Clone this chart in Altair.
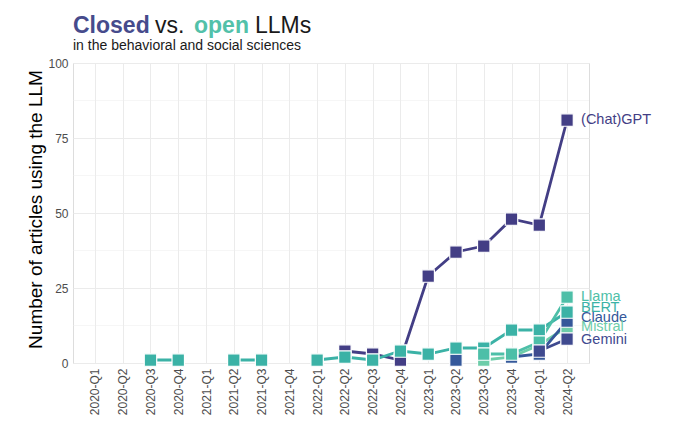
import altair as alt
import pandas as pd

quarters = ["2020-Q1", "2020-Q2", "2020-Q3", "2020-Q4",
            "2021-Q1", "2021-Q2", "2021-Q3", "2021-Q4",
            "2022-Q1", "2022-Q2", "2022-Q3", "2022-Q4",
            "2023-Q1", "2023-Q2", "2023-Q3", "2023-Q4",
            "2024-Q1", "2024-Q2"]

N = None
gpt     = [N, N, N, N, N, N, N, N, N, 4, 3, 1, 29, 37, 39, 48, 46, 81]
bert    = [N, N, 1, 1, N, 1, 1, N, 1, 2, 1, 4, 3, 5, 5, 11, 11, 17]
llama   = [N, N, N, N, N, N, N, N, N, N, N, N, N, N, 3, 3, 7, 22]
mistral = [N, N, N, N, N, N, N, N, N, N, N, N, N, N, 1, 2, 6, 12]
claude  = [N, N, N, N, N, N, N, N, N, N, N, N, N, 1, N, 2, 3, 14]
gemini  = [N, N, N, N, N, N, N, N, N, N, N, N, N, N, N, N, 4, 8]

models = ["(Chat)GPT", "Claude", "Gemini", "Llama", "BERT", "Mistral"]
model_colors = ["#433e85", "#35589a", "#3f4a8f", "#4dbfa8", "#3bb2a6", "#6dcda9"]
draw_order = ["Mistral", "Claude", "(Chat)GPT", "BERT", "Llama", "Gemini"]
values = {"(Chat)GPT": gpt, "BERT": bert, "Llama": llama,
          "Mistral": mistral, "Claude": claude, "Gemini": gemini}
minor_ticks = [12.5, 37.5, 62.5, 87.5]
major_ticks = [0, 25, 50, 75, 100]

# small vertical nudges of the end labels (style only, like a repel)
label_dy = {"(Chat)GPT": 0, "Llama": 0, "BERT": -4, "Claude": -3, "Mistral": 0, "Gemini": 1}

rows = []
for k, name in enumerate(draw_order):
    for q, v in zip(quarters, values[name]):
        rows.append({"quarter": q, "model": name, "n": v, "ord": k})
df = pd.DataFrame(rows)
pts = df.dropna().reset_index(drop=True)
last = pts[pts["quarter"] == quarters[-1]].reset_index(drop=True)

FONT = "Liberation Sans"
x_scale = alt.Scale(domain=quarters, padding=0.79)
y_scale = alt.Scale(domain=[0, 100], nice=False)
color_scale = alt.Scale(domain=models, range=model_colors)

x_axis = alt.Axis(title=None, labelAngle=270, labelAlign="right", labelBaseline="middle",
                  labelFontSize=12, labelColor="#4d4d4d", ticks=False, domain=False,
                  grid=True, gridColor="#ebebeb", gridWidth=1, labelPadding=5)
y_axis = alt.Axis(title="Number of articles using the LLM", values=major_ticks,
                  labelFontSize=12, labelColor="#4d4d4d", ticks=False, domain=False,
                  grid=True, gridColor="#ebebeb", gridWidth=1, labelPadding=5,
                  titleFontSize=19, titleFontWeight="normal", titleColor="#000000",
                  titleAngle=270, titleBaseline="middle", titleAlign="center",
                  titleX=-38, titleY=146)

X = alt.X("quarter:O", scale=x_scale, axis=x_axis, sort=quarters)
Y = alt.Y("n:Q", scale=y_scale, axis=y_axis)

minor = alt.Chart(pd.DataFrame({"n": minor_ticks})).mark_rule(
    color="#ededed", strokeWidth=0.5
).encode(y=Y)

lines = alt.Chart(df).mark_line(
    strokeWidth=2.8, invalid="break-paths-filter-domains"
).encode(
    x=X, y=Y,
    color=alt.Color("model:N", scale=color_scale, legend=None),
    detail="model:N",
)

points = alt.Chart(pts).mark_square(
    size=155, stroke="white", strokeWidth=1.2, opacity=1
).encode(
    x=X, y=Y,
    fill=alt.Fill("model:N", scale=color_scale, legend=None),
    order=alt.Order("ord:Q"),
)

label_layers = []
for name in models:
    label_layers.append(
        alt.Chart(last[last["model"] == name]).mark_text(
            align="left", baseline="middle", dx=14, dy=label_dy[name],
            fontSize=14.5, font=FONT
        ).encode(
            x=X, y=Y, text="model:N",
            color=alt.Color("model:N", scale=color_scale, legend=None),
        )
    )

def title_piece(txt, xpos, ypos, color, weight, size):
    return alt.Chart(pd.DataFrame({"t": [txt]})).mark_text(
        align="left", baseline="alphabetic", fontSize=size, fontWeight=weight,
        color=color, font=FONT
    ).encode(text="t:N", x=alt.value(xpos), y=alt.value(ypos))

t1 = title_piece("Closed", 0, -30, "#464b8c", "bold", 23)
t2 = title_piece("vs.", 82, -30, "#1a1a1a", "normal", 23)
t3 = title_piece("open", 121, -30, "#52c1a9", "bold", 23)
t4 = title_piece("LLMs", 182, -30, "#1a1a1a", "normal", 23)
sub = title_piece("in the behavioral and social sciences", 0, -13, "#1a1a1a", "normal", 14)

chart = alt.layer(minor, lines, points, *label_layers, t1, t2, t3, t4, sub).properties(
    width=516, height=300,
    autosize=alt.AutoSizeParams(type="none"),
    padding={"left": 65, "top": 55, "right": 83, "bottom": 57},
).configure_view(stroke="transparent").configure(font=FONT)

chart.save("out.html", embed_options={"renderer": "svg", "actions": False})
